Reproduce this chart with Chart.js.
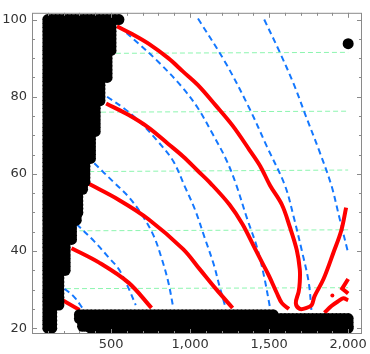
<!DOCTYPE html>
<html><head><meta charset="utf-8">
<script src="https://cdn.jsdelivr.net/npm/chart.js@4/dist/chart.umd.min.js"></script>
<style>html,body{margin:0;padding:0;background:#fff}</style>
</head><body>
<canvas id="c" width="370" height="354"></canvas>
<script>
// ---- tick labels ----
const xTickLabels = [500, 1000, 1500, 2000];
const yTickLabels = [20, 40, 60, 80, 100];

// ---- black region: left column, bands of rows (xMin = 100) ----
const colXmin = 100;
const colBandTop    = [100, 99, 91, 84, 78, 70, 63, 57, 55, 49, 47, 42, 34, 25];
const colBandBottom = [100, 92, 85, 79, 71, 64, 58, 56, 50, 48, 43, 35, 26, 20];
const colBandXmax   = [550, 500, 475, 430, 400, 370, 335, 320, 290, 280, 250, 210, 170, 125];

// ---- black region: bottom band rows ----
const bandRowY    = [23.5, 22.5, 21.5, 20.5, 20];
const bandRowXmin = [300, 300, 320, 320, 370];
const bandRowXmax = [1525, 2000, 2000, 2000, 2000];
const gridStepX = 25;

// ---- isolated black point ----
const dotX = [2000];
const dotY = [93.75];

// ---- red contour curves ----
const redAx = [537, 644, 737, 862, 956, 1050, 1162, 1269, 1375, 1444, 1506, 1581, 1631, 1675, 1694, 1694, 1687, 1669, 1694, 1737, 1769, 1787, 1844, 1906, 1956, 1987];
const redAy = [98.25, 96, 93.75, 90, 86.5, 83, 77.75, 72.5, 66.25, 62, 57, 52, 46.25, 40.25, 35.25, 32, 29.5, 26.5, 25, 25.25, 26, 28.25, 32.75, 39.5, 45.25, 51.25];
const redBx = [469, 612, 737, 862, 956, 1050, 1131, 1250, 1331, 1406, 1456, 1500, 1550, 1581, 1625];
const redBy = [78.25, 75.25, 72, 67.75, 64.5, 60.75, 57.5, 52, 47, 41, 37, 33.5, 29, 26.5, 25];
const redCx = [356, 550, 737, 956, 1062, 1162, 1269];
const redCy = [57.5, 53.25, 48.25, 40.5, 35.25, 30.25, 25.25];
const redDx = [250, 425, 612, 756];
const redDy = [40.75, 37, 31.75, 25.25];
const redEx = [194, 300];
const redEy = [27.25, 24.75];
const redFx = [1850, 1894, 1937, 1969, 2000];
const redFy = [24, 25.75, 27, 27.75, 27.25];
const redGx = [2000, 1962, 2000];
const redGy = [32.75, 30.25, 29];
const redDotX = [1900];
const redDotY = [28.5];

// ---- blue dashed curves ----
const blue1x = [1469, 1562, 1656, 1737, 1819, 1894, 1944, 2000];
const blue1y = [100, 92, 83.25, 74.5, 65.75, 57, 48.75, 39.5];
const blue2x = [1050, 1225, 1375, 1487, 1600, 1656, 1706, 1750, 1769];
const blue2y = [100.25, 88.75, 77, 67, 57, 48.75, 40.25, 32, 24];
const blue3x = [550, 675, 800, 944, 1050, 1144, 1225, 1287, 1362, 1425, 1469, 1506];
const blue3y = [98.25, 93.75, 89, 82.75, 77, 70.25, 64, 57.75, 48.25, 40.75, 33.25, 25.25];
const blue4x = [475, 581, 675, 800, 894, 969, 1031, 1094, 1150, 1187, 1225];
const blue4y = [80, 77, 73.75, 68.25, 63.25, 56.5, 50.75, 43.25, 36.5, 30.75, 25.25];
const blue5x = [394, 519, 612, 694, 769, 819, 862, 894];
const blue5y = [62.75, 57.75, 54, 49.5, 44, 38.25, 32, 25.25];
const blue6x = [281, 394, 487, 550, 612, 656];
const blue6y = [47, 42.5, 38.25, 35.25, 30.25, 26];
const blue7x = [206, 269, 319];
const blue7y = [30.25, 28, 25.25];

// ---- green dashed horizontal lines ----
const greenX0 = [531, 437, 362, 300, 215];
const greenX1 = [2000, 2000, 2000, 2000, 2000];
const greenY0 = [91.25, 76, 60.6, 45.25, 30.25];
const greenY1 = [91.5, 76.25, 61, 45.5, 30.5];

// ---------------------------------------------------------
const zip = (xs, ys) => xs.map((x, i) => ({x, y: ys[i]}));

// black region as a grid of dots (like the original point plot)
const regionPts = [];
const addRow = (x0, x1, y) => {
  for (let x = x0; x < x1; x += gridStepX) regionPts.push({x, y});
  regionPts.push({x: x1, y});
};
for (let i = 0; i < colBandTop.length; i++) {
  for (let y = colBandTop[i]; y >= colBandBottom[i]; y -= 1) addRow(colXmin, colBandXmax[i], y);
}
for (let i = 0; i < bandRowY.length; i++) addRow(bandRowXmin[i], bandRowXmax[i], bandRowY[i]);

const RED = '#ff0000', BLUE = 'rgb(20,120,255)', GREEN = 'rgb(140,245,175)';
const redLine = (xs, ys, t) => ({data: zip(xs, ys), showLine: true, borderColor: RED, borderWidth: 4,
  pointRadius: 0, tension: t, fill: false, borderCapStyle: 'butt', order: 1});
const blueLine = (xs, ys) => ({data: zip(xs, ys), showLine: true, borderColor: BLUE, borderWidth: 2,
  borderDash: [6, 4], pointRadius: 0, tension: 0.35, fill: false, order: 2});
const greenLine = (i) => ({data: [{x: greenX0[i], y: greenY0[i]}, {x: greenX1[i], y: greenY1[i]}], showLine: true,
  borderColor: GREEN, borderWidth: 1, borderDash: [5, 3], pointRadius: 0, fill: false, order: 3});

const datasets = [
  {data: regionPts, pointRadius: 5.5, backgroundColor: '#000', borderColor: '#000', borderWidth: 0, order: 0},
  {data: zip(dotX, dotY), pointRadius: 5.5, backgroundColor: '#000', borderColor: '#000', borderWidth: 0, order: 0},
  redLine(redAx, redAy, 0.35), redLine(redBx, redBy, 0.35), redLine(redCx, redCy, 0.35), redLine(redDx, redDy, 0.35),
  redLine(redEx, redEy, 0), redLine(redFx, redFy, 0.3), redLine(redGx, redGy, 0),
  {data: zip(redDotX, redDotY), pointRadius: 2, backgroundColor: RED, borderWidth: 0, order: 1},
  blueLine(blue1x, blue1y), blueLine(blue2x, blue2y), blueLine(blue3x, blue3y), blueLine(blue4x, blue4y),
  blueLine(blue5x, blue5y), blueLine(blue6x, blue6y), blueLine(blue7x, blue7y),
  greenLine(0), greenLine(1), greenLine(2), greenLine(3), greenLine(4)
];

const FRAME = '#8a8a8a';
const framePlugin = {
  id: 'frame',
  afterDatasetsDraw(chart) {
    const {ctx, chartArea: a, scales: {x, y}} = chart;
    ctx.save();
    ctx.strokeStyle = FRAME;
    ctx.lineWidth = 1;
    ctx.strokeRect(a.left + 0.5, a.top + 0.5, a.right - a.left - 1, a.bottom - a.top - 1);
    ctx.beginPath();
    for (let v = 100; v <= 2000; v += 100) {
      const px = Math.round(x.getPixelForValue(v)) + 0.5;
      const len = (v % 500 === 0) ? 5 : 3;
      ctx.moveTo(px, a.bottom); ctx.lineTo(px, a.bottom - len);
      ctx.moveTo(px, a.top); ctx.lineTo(px, a.top + len);
    }
    for (let v = 20; v <= 100; v += 5) {
      const py = Math.round(y.getPixelForValue(v)) + 0.5;
      const len = (v % 20 === 0) ? 5 : 3;
      ctx.moveTo(a.left, py); ctx.lineTo(a.left + len, py);
      ctx.moveTo(a.right, py); ctx.lineTo(a.right - len, py);
    }
    ctx.stroke();
    ctx.restore();
  }
};

new Chart(document.getElementById('c'), {
  type: 'scatter',
  data: {datasets},
  options: {
    responsive: false, animation: false, devicePixelRatio: 1, events: [],
    layout: {padding: {top: 1, right: 4, left: 0, bottom: 0}},
    plugins: {legend: {display: false}, tooltip: {enabled: false}},
    scales: {
      x: {type: 'linear', min: 0, max: 2087.5,
        afterFit: s => { s.height = 20; },
        afterBuildTicks: s => { s.ticks = xTickLabels.map(v => ({value: v})); },
        grid: {display: false, drawTicks: false}, border: {display: false},
        ticks: {padding: 3, color: '#333', font: {family: 'DejaVu Sans', size: 13}, maxRotation: 0, autoSkip: false}},
      y: {type: 'linear', min: 18.5, max: 101.75,
        afterFit: s => { s.width = 32; },
        afterBuildTicks: s => { s.ticks = yTickLabels.map(v => ({value: v})); },
        grid: {display: false, drawTicks: false}, border: {display: false},
        ticks: {padding: 5, color: '#333', font: {family: 'DejaVu Sans', size: 13}, autoSkip: false}}
    }
  },
  plugins: [framePlugin]
});
</script>
</body></html>
